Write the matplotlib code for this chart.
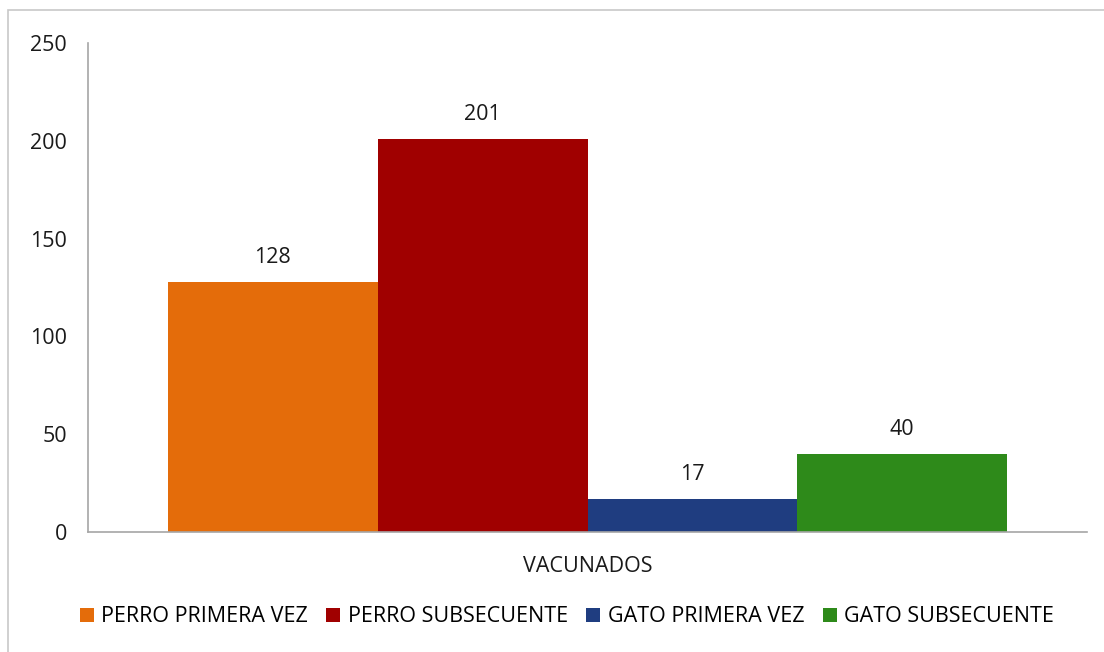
import matplotlib
matplotlib.use("Agg")
import matplotlib.pyplot as plt
from matplotlib.patches import Rectangle
import numpy as np

SERIES = ["PERRO PRIMERA VEZ", "PERRO SUBSECUENTE", "GATO PRIMERA VEZ", "GATO SUBSECUENTE"]
VALORES = [128, 201, 17, 40]
CATEGORIA = "VACUNADOS"
Y_TICKS = [0, 50, 100, 150, 200, 250]

COLORES = ["#E46C0A", "#A00000", "#1F3D80", "#2E8A1A"]
GRIS_EJE = "#A6A6A6"
TAM = 15.5

plt.rcParams["font.family"] = ["Open Sans", "DejaVu Sans"]

fig = plt.figure(figsize=(11.04, 6.52), dpi=100)
ax = fig.add_axes([88 / 1104, 1 - 532 / 652, 999 / 1104, 489 / 652])

x = np.arange(len(SERIES)) - 1.5
for xi, v, c, lab in zip(x, VALORES, COLORES, SERIES):
    ax.bar(xi, v, width=1.0, color=c, label=lab)
    ax.text(xi, v + 7, str(v), ha="center", va="bottom", fontsize=TAM, color="#1a1a1a")

ax.set_xlim(-2.38, 2.38)
ax.set_ylim(0, 250)
ax.set_yticks(Y_TICKS)
ax.set_xticks([0])
ax.set_xticklabels([CATEGORIA])
ax.tick_params(axis="both", length=0, labelsize=TAM, colors="#1a1a1a")
ax.tick_params(axis="x", pad=17)
ax.tick_params(axis="y", pad=15)
for s in ["top", "right"]:
    ax.spines[s].set_visible(False)
for s in ["left", "bottom"]:
    ax.spines[s].set_color(GRIS_EJE)
    ax.spines[s].set_linewidth(1.2)

fig.legend(loc="center", bbox_to_anchor=(567 / 1104, 1 - 617 / 652), ncol=4,
           frameon=False, fontsize=TAM, handlelength=0.65, handleheight=0.65,
           handletextpad=0.35, columnspacing=0.85)

# marco del grafico (escaneado)
fig.patches.append(Rectangle((8 / 1104, -0.1), 1.2, 1 - 10 / 652 + 0.1,
                             transform=fig.transFigure, fill=False,
                             edgecolor="#C8C8C8", linewidth=1.2))

fig.savefig("out.png", dpi=100)
